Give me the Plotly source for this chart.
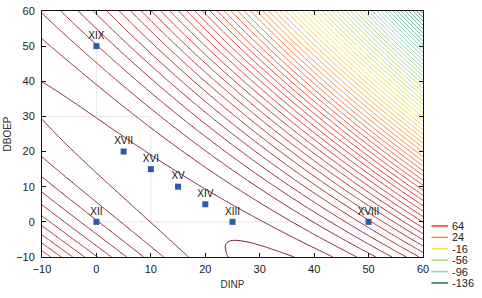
import numpy as np
import plotly.graph_objects as go

# ---- data ----
# response-surface coefficients (cubic in x/30, y/30; contour step 5 around 164)
surface_terms = ["1", "x", "y", "x2", "y2", "xy", "x3", "y3", "x2y", "xy2"]
surface_coef = [-2.116, 8.432, 6.992, -5.991, -5.54, -11.52, -0.2276, 0.6341, -0.6469, 0.7156]
surface_base = 164
surface_step = 5

point_names = ["XIX", "XVII", "XVI", "XV", "XIV", "XIII", "XII", "XVIII"]
point_x = [0, 5, 10, 15, 20, 25, 0, 50]
point_y = [50, 20, 15, 10, 5, 0, 0, 0]

legend_levels = [64, 24, -16, -56, -96, -136]
legend_colors = ["#e43a35", "#f08a3e", "#f2e34a", "#b5d77e", "#8ccfb8", "#2f6a55"]

tick_vals = [-10, 0, 10, 20, 30, 40, 50, 60]

# faint guide segments (x0, y0, x1, y1)
guide_segments = [(-10, 30, 10, 30), (10, 30, 10, 0), (0, 0, 50, 0), (0, 50, 0, 30)]

# ---- surface grid ----
xs = np.linspace(-10, 60, 141)
ys = np.linspace(-10, 60, 141)
X, Y = np.meshgrid(xs, ys)
u, v = X / 30, Y / 30
terms = [np.ones_like(u), u, v, u * u, v * v, u * v, u ** 3, v ** 3, u * u * v, u * v * v]
Z = surface_base + surface_step * sum(c * t for c, t in zip(surface_coef, terms))

cs = [[0.0, '#2f6a55'], [0.08, '#3f8a68'], [0.22, '#8ccfb8'], [0.35, '#b5d77e'], [0.48, '#f2e34a'],
      [0.60, '#f08a3e'], [0.71, '#e43a35'], [0.86, '#b8283a'], [1.0, '#6e2030']]

font = "Liberation Sans, Arial, sans-serif"
fig = go.Figure()
fig.add_trace(go.Contour(x=xs, y=ys, z=Z, colorscale=cs, showscale=False,
                         contours=dict(coloring='lines', start=-151, end=174, size=surface_step),
                         line=dict(width=1), hoverinfo='skip', showlegend=False))
fig.add_trace(go.Scatter(x=point_x, y=point_y, mode='markers+text', text=point_names,
                         textposition='top center', textfont=dict(size=10, color='#111', family=font),
                         marker=dict(symbol='square', size=6, color='#2a5ca8'), showlegend=False,
                         hoverinfo='skip'))

shapes = []
for x0, y0, x1, y1 in guide_segments:
    shapes.append(dict(type='line', xref='x', yref='y', x0=x0, y0=y0, x1=x1, y1=y1,
                       line=dict(color='#e6e6e6', width=1), layer='below'))

annotations = []
py0, dpy = 226.0, 11.4
for i, (lv, col) in enumerate(zip(legend_levels, legend_colors)):
    py = py0 + i * dpy
    yp = (257 - py) / 246
    shapes.append(dict(type='line', xref='paper', yref='paper', x0=(431.5 - 42) / 381, x1=(448 - 42) / 381,
                       y0=yp, y1=yp, line=dict(color=col, width=1.5)))
    annotations.append(dict(xref='paper', yref='paper', x=(450 - 42) / 381, y=yp, text=str(lv),
                            showarrow=False, xanchor='left', yanchor='middle',
                            font=dict(size=11, color='#222', family=font)))

fig.update_layout(width=482, height=298, margin=dict(l=42, r=59, t=11, b=41, autoexpand=False),
                  plot_bgcolor='white', paper_bgcolor='white', showlegend=False, hovermode=False,
                  shapes=shapes, annotations=annotations, font=dict(family=font))
axis_common = dict(range=[-10, 60], tickvals=tick_vals, showgrid=False, zeroline=False,
                   showline=True, linecolor='#111', linewidth=1, mirror='ticks',
                   ticks='inside', ticklen=4, tickcolor='#111', automargin=False,
                   tickfont=dict(size=11, color='#1a1a1a', family=font))
fig.update_xaxes(**axis_common, ticklabelstandoff=2,
                 title=dict(text='DINP', font=dict(size=10, color='#333', family=font), standoff=6))
fig.update_yaxes(**axis_common, ticklabelstandoff=4,
                 title=dict(text='DBOEP', font=dict(size=10, color='#333', family=font), standoff=2))
fig.write_html("out.html", config={'displayModeBar': False, 'staticPlot': True},
               post_script="document.body.style.margin='0';document.body.style.padding='0';")
